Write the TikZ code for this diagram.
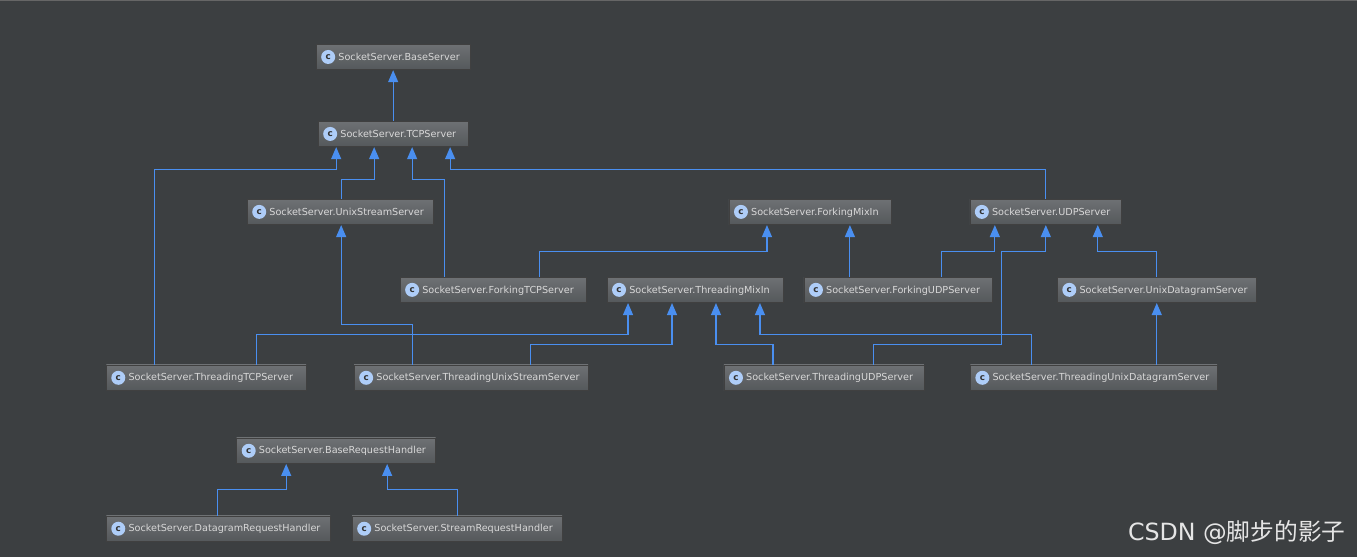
\documentclass[tikz,border=0pt]{standalone}
\usepackage{fontspec}
\setmainfont{DejaVu Sans}
\newfontfamily\cjk{Noto Sans CJK SC}
\usetikzlibrary{arrows.meta}
\definecolor{bgc}{HTML}{3C3F41}
\definecolor{boxc}{HTML}{54585B}
\definecolor{linec}{HTML}{4A8FF0}
\definecolor{txtc}{HTML}{D8D8D8}
\newcommand{\clsicon}{\tikz[baseline=-0.6ex]{\node[circle,fill=linec!45!white,inner sep=0pt,minimum size=0.28cm,text=black!80,font=\fontsize{5}{5}\selectfont\bfseries]{c};}}
\tikzset{
  cls/.style={draw=black!75,top color=boxc!85!white,bottom color=boxc,text=txtc,font=\fontsize{5.5}{6.5}\selectfont,
    minimum height=0.48cm,inner xsep=0.1cm,text width=#1*0.02cm-0.2cm,align=left},
  inh/.style={draw=linec,line width=0.65pt,-{Triangle[width=0.2cm,length=0.24cm]}}
}
\begin{document}
\begin{tikzpicture}[x=0.02cm,y=-0.02cm]
\fill[bgc] (0,0) rectangle (1357,557);
\draw[black!60] (0,0.5) -- (1357,0.5);
% classes
\node[cls=154] (base) at (393,57) {\clsicon\ SocketServer.BaseServer};
\node[cls=150] (tcp) at (393,134) {\clsicon\ SocketServer.TCPServer};
\node[cls=186] (unixs) at (340,212) {\clsicon\ SocketServer.UnixStreamServer};
\node[cls=162] (fmix) at (810,212) {\clsicon\ SocketServer.ForkingMixIn};
\node[cls=152] (udp) at (1046,212) {\clsicon\ SocketServer.UDPServer};
\node[cls=186] (ftcp) at (493,290) {\clsicon\ SocketServer.ForkingTCPServer};
\node[cls=176] (tmix) at (695,290) {\clsicon\ SocketServer.ThreadingMixIn};
\node[cls=188] (fudp) at (898,290) {\clsicon\ SocketServer.ForkingUDPServer};
\node[cls=199] (unixd) at (1157,290) {\clsicon\ SocketServer.UnixDatagramServer};
\node[cls=200] (ttcp) at (206,378) {\clsicon\ SocketServer.ThreadingTCPServer};
\node[cls=234] (tunixs) at (471,378) {\clsicon\ SocketServer.ThreadingUnixStreamServer};
\node[cls=200] (tudp) at (824,378) {\clsicon\ SocketServer.ThreadingUDPServer};
\node[cls=247] (tunixd) at (1094,378) {\clsicon\ SocketServer.ThreadingUnixDatagramServer};
\node[cls=199] (brh) at (336,451) {\clsicon\ SocketServer.BaseRequestHandler};
\node[cls=224] (drh) at (218,529) {\clsicon\ SocketServer.DatagramRequestHandler};
\node[cls=210] (srh) at (457,529) {\clsicon\ SocketServer.StreamRequestHandler};
% inheritance
\draw[inh] (tcp) -- (base);
\draw[inh] (154,0 |- ttcp.north) |- (336,170) -- (336,0 |- tcp.south);
\draw[inh] (341,0 |- unixs.north) |- (374,180) -- (374,0 |- tcp.south);
\draw[inh] (444,0 |- ftcp.north) |- (412,180) -- (412,0 |- tcp.south);
\draw[inh] (1046,0 |- udp.north) |- (450,170) -- (450,0 |- tcp.south);
\draw[inh] (412,0 |- tunixs.north) |- (341,325) -- (341,0 |- unixs.south);
\draw[inh] (539,0 |- ftcp.north) |- (767,252) -- (767,0 |- fmix.south);
\draw[inh] (850,0 |- fudp.north) -- (850,0 |- fmix.south);
\draw[inh] (942,0 |- fudp.north) |- (995,252) -- (995,0 |- udp.south);
\draw[inh] (874,0 |- tudp.north) |- (1002,345) |- (1046,252) -- (1046,0 |- udp.south);
\draw[inh] (1157,0 |- unixd.north) |- (1098,252) -- (1098,0 |- udp.south);
\draw[inh] (256,0 |- ttcp.north) |- (628,335) -- (628,0 |- tmix.south);
\draw[inh] (530,0 |- tunixs.north) |- (672,345) -- (672,0 |- tmix.south);
\draw[inh] (773,0 |- tudp.north) |- (716,345) -- (716,0 |- tmix.south);
\draw[inh] (1032,0 |- tunixd.north) |- (760,335) -- (760,0 |- tmix.south);
\draw[inh] (1157,0 |- tunixd.north) -- (1157,0 |- unixd.south);
\draw[inh] (217,0 |- drh.north) |- (286,490) -- (286,0 |- brh.south);
\draw[inh] (457,0 |- srh.north) |- (387,490) -- (387,0 |- brh.south);
% watermark
\node[text=white!90!black,font=\fontsize{13.5}{15}\selectfont,anchor=east] (mark) at (1352,533) {CSDN @{\cjk 脚步的影子}};
\end{tikzpicture}
\end{document}
